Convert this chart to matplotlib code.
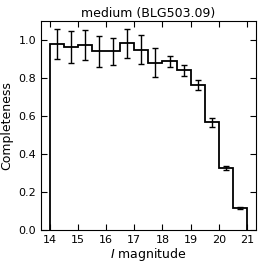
import numpy as np
import matplotlib
matplotlib.use("Agg")
import matplotlib.pyplot as plt

bin_edges = [14.0, 14.5, 15.0, 15.5, 16.0, 16.5, 17.0, 17.5, 18.0, 18.5, 19.0, 19.5, 20.0, 20.5, 21.0]
completeness = [0.98, 0.962, 0.975, 0.94, 0.94, 0.983, 0.95, 0.88, 0.887, 0.84, 0.763, 0.567, 0.325, 0.115]
errors = [0.08, 0.083, 0.079, 0.08, 0.073, 0.075, 0.077, 0.077, 0.03, 0.031, 0.028, 0.025, 0.01, 0.006]

edges = np.array(bin_edges)
centers = 0.5 * (edges[:-1] + edges[1:])

fig = plt.figure(figsize=(2.66, 2.66), dpi=100)
ax = fig.add_axes([0.154, 0.135, 0.808, 0.786])

ax.stairs(completeness, edges, baseline=0, color="black", lw=1.3)
ax.errorbar(centers, completeness, yerr=errors, fmt="none", ecolor="black",
            elinewidth=1.0, capsize=2, capthick=1.0)

ax.set_xlim(13.68, 21.32)
ax.set_ylim(0, 1.1)
ax.set_xticks(range(14, 22))
ax.set_yticks([0.0, 0.2, 0.4, 0.6, 0.8, 1.0])
ax.tick_params(direction="in", top=True, right=True, labelsize=8, length=4)
ax.set_xlabel("$I$ magnitude", fontsize=9, labelpad=1)
ax.set_ylabel("Completeness", fontsize=9)
ax.set_title("medium (BLG503.09)", fontsize=9, pad=3)

fig.savefig("out.png", dpi=100)
